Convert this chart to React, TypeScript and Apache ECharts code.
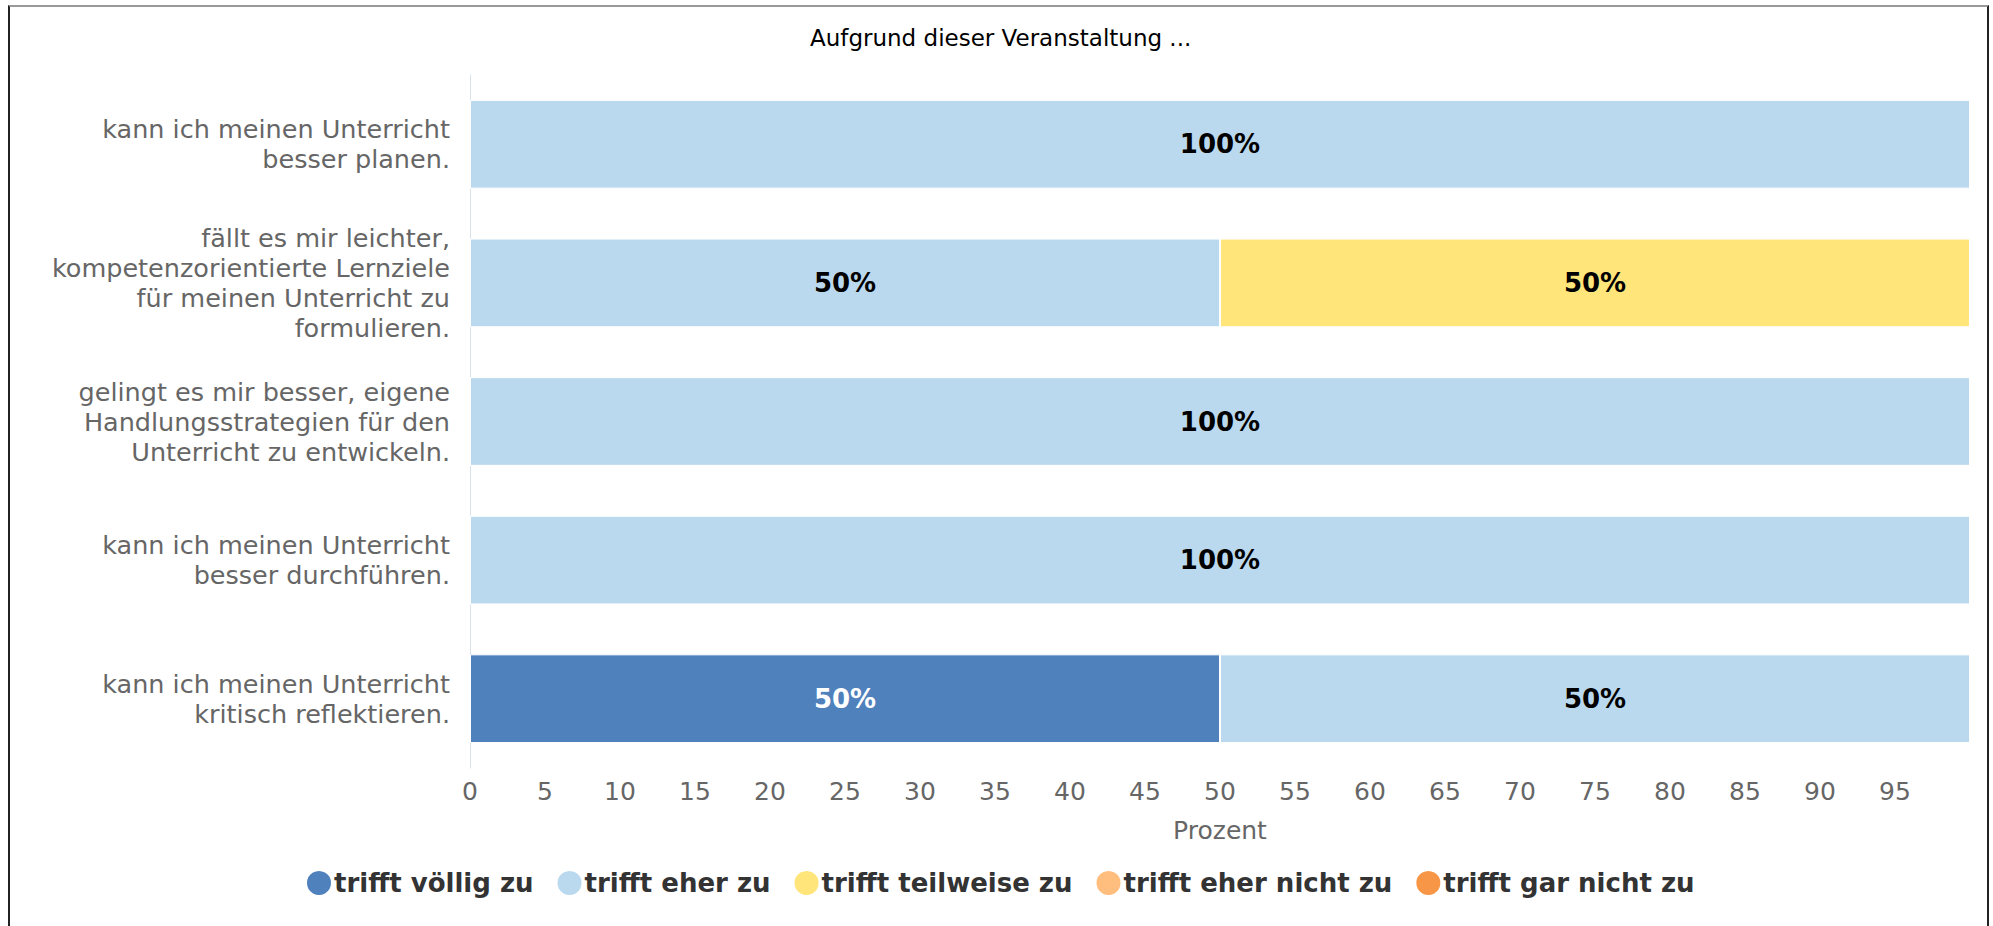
import React, { useEffect, useRef } from "react";
import * as echarts from "echarts";

const categories = [
  "kann ich meinen Unterricht\nbesser planen.",
  "fällt es mir leichter,\nkompetenzorientierte Lernziele\nfür meinen Unterricht zu\nformulieren.",
  "gelingt es mir besser, eigene\nHandlungsstrategien für den\nUnterricht zu entwickeln.",
  "kann ich meinen Unterricht\nbesser durchführen.",
  "kann ich meinen Unterricht\nkritisch reflektieren.",
];

const seriesNames = [
  "trifft völlig zu",
  "trifft eher zu",
  "trifft teilweise zu",
  "trifft eher nicht zu",
  "trifft gar nicht zu",
];

const voelligZu = [0, 0, 0, 0, 50];
const eherZu = [100, 50, 100, 100, 50];
const teilweiseZu = [0, 50, 0, 0, 0];
const eherNichtZu = [0, 0, 0, 0, 0];
const garNichtZu = [0, 0, 0, 0, 0];

const seriesValues = [voelligZu, eherZu, teilweiseZu, eherNichtZu, garNichtZu];
const colors = ["#4f81bd", "#bbd9ee", "#ffe57a", "#ffbe7d", "#f79646"];
const labelColors = ["#ffffff", "#000000", "#000000", "#000000", "#000000"];

const FONT = "DejaVu Sans";

export default function App() {
  const ref = useRef<HTMLDivElement>(null);
  useEffect(() => {
    if (!ref.current) return;
    const chart = echarts.init(ref.current, null, { renderer: "svg" });
    chart.setOption({
      animation: false,
      title: {
        text: "Aufgrund dieser Veranstaltung ...",
        left: 805,
        top: 21,
        textStyle: { fontFamily: FONT, fontSize: 23, fontWeight: "normal", color: "#000" },
      },
      legend: {
        data: seriesNames,
        bottom: 24,
        left: 300,
        icon: "circle",
        itemWidth: 26,
        itemHeight: 26,
        itemGap: 22,
        textStyle: {
          fontFamily: FONT,
          fontSize: 26,
          fontWeight: "bold",
          color: "#333",
          padding: [0, 0, 0, -3],
        },
      },
      grid: { left: 470, right: 23, top: 75, bottom: 158, containLabel: false },
      xAxis: {
        type: "value",
        min: 0,
        max: 100,
        interval: 5,
        name: "Prozent",
        nameLocation: "middle",
        nameGap: 50,
        nameTextStyle: { fontFamily: FONT, fontSize: 25, color: "#666" },
        axisLine: { show: false },
        axisTick: { show: false },
        splitLine: { show: false },
        axisLabel: {
          fontFamily: FONT,
          fontSize: 25,
          color: "#666",
          margin: 11,
          showMaxLabel: false,
        },
      },
      yAxis: {
        type: "category",
        data: categories,
        inverse: true,
        axisLine: { show: true, lineStyle: { color: "#d9e1ec", width: 1 } },
        axisTick: { show: false },
        axisLabel: {
          fontFamily: FONT,
          fontSize: 25.5,
          lineHeight: 30,
          color: "#666",
          margin: 20,
          align: "right",
        },
      },
      series: seriesNames.map((name, i) => ({
        name,
        type: "bar",
        stack: "total",
        barCategoryGap: "36%",
        data: seriesValues[i],
        itemStyle: { color: colors[i], borderColor: "#ffffff", borderWidth: 1 },
        label: {
          show: true,
          position: "inside",
          fontFamily: FONT,
          fontSize: 26,
          fontWeight: "bold",
          color: labelColors[i],
          formatter: (p: any) => (p.value ? p.value + "%" : ""),
        },
      })),
    });
    return () => chart.dispose();
  }, []);
  return (
    <div style={{ position: "fixed", left: 0, top: 0, width: 1993, height: 926, background: "#fff" }}>
      <div ref={ref} style={{ position: "absolute", left: 0, top: 0, width: 1993, height: 926 }} />
      <div
        style={{
          position: "absolute",
          left: 8,
          top: 5,
          width: 1981,
          height: 1000,
          boxSizing: "border-box",
          borderLeft: "2px solid #222",
          borderRight: "2px solid #222",
          borderTop: "2px solid #999",
          pointerEvents: "none",
        }}
      />
    </div>
  );
}
